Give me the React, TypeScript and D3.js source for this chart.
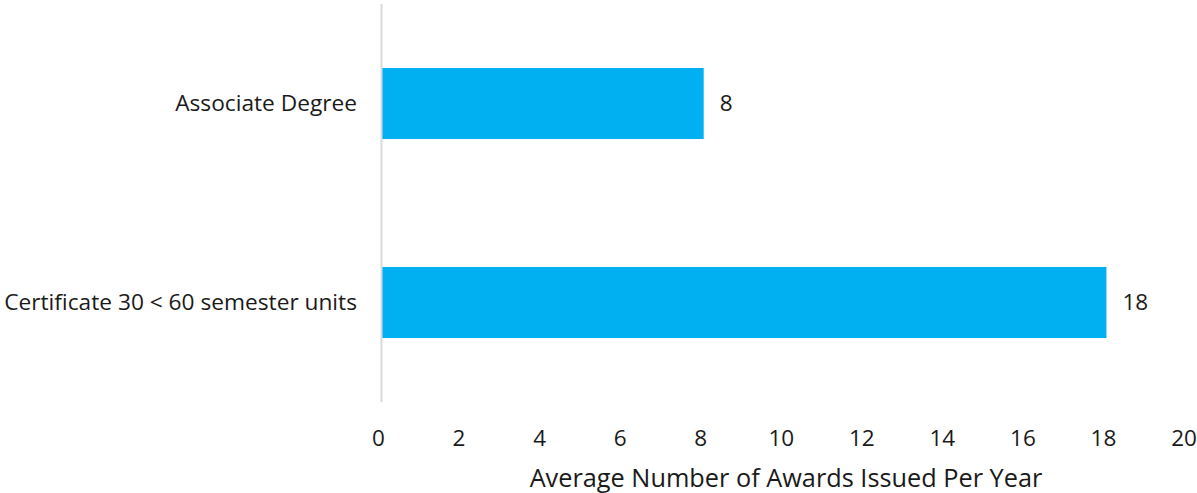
import * as d3 from 'd3';

// Chart data
const categories = ['Associate Degree', 'Certificate 30 < 60 semester units'];
const awards = [8, 18];
const xTicks = [0, 2, 4, 6, 8, 10, 12, 14, 16, 18, 20];
const xTitle = 'Average Number of Awards Issued Per Year';

const WIDTH = 1197;
const HEIGHT = 493;
const FONT = '"Open Sans", "Noto Sans", sans-serif';
const BAR_COLOR = '#00b0f0';
const TEXT_COLOR = '#1a1a1a';

const App = () => {
  const x = d3.scaleLinear().domain([0, 20]).range([381.5, 1187]);
  const y = d3
    .scaleBand<string>()
    .domain(categories)
    .range([4, 402])
    .paddingInner(0.643)
    .paddingOuter(0.3215);

  return (
    <svg
      width={WIDTH}
      height={HEIGHT}
      style={{ position: 'absolute', left: 0, top: 0, background: '#fff' }}
      fontFamily={FONT}
    >
      {categories.map((c, i) => {
        const yy = y(c) ?? 0;
        const bw = y.bandwidth();
        return (
          <g key={c}>
            <rect x={x(0)} y={yy} width={x(awards[i]) - x(0)} height={bw} fill={BAR_COLOR} />
            <text
              x={x(awards[i]) + 16}
              y={yy + bw / 2}
              dy="0.35em"
              fontSize={22.5}
              fill={TEXT_COLOR}
            >
              {awards[i]}
            </text>
            <text
              x={357}
              y={yy + bw / 2}
              dy="0.35em"
              textAnchor="end"
              fontSize={22.7}
              fill={TEXT_COLOR}
            >
              {c}
            </text>
          </g>
        );
      })}

      {/* vertical axis line */}
      <line x1={x(0)} x2={x(0)} y1={4} y2={402} stroke="#d9d9d9" strokeWidth={2} />

      {xTicks.map((t) => (
        <text key={t} x={x(t) - 3} y={446} textAnchor="middle" fontSize={22.5} fill={TEXT_COLOR}>
          {t}
        </text>
      ))}

      <text x={786} y={487} textAnchor="middle" fontSize={25.3} fill={TEXT_COLOR}>
        {xTitle}
      </text>
    </svg>
  );
};

export default App;
